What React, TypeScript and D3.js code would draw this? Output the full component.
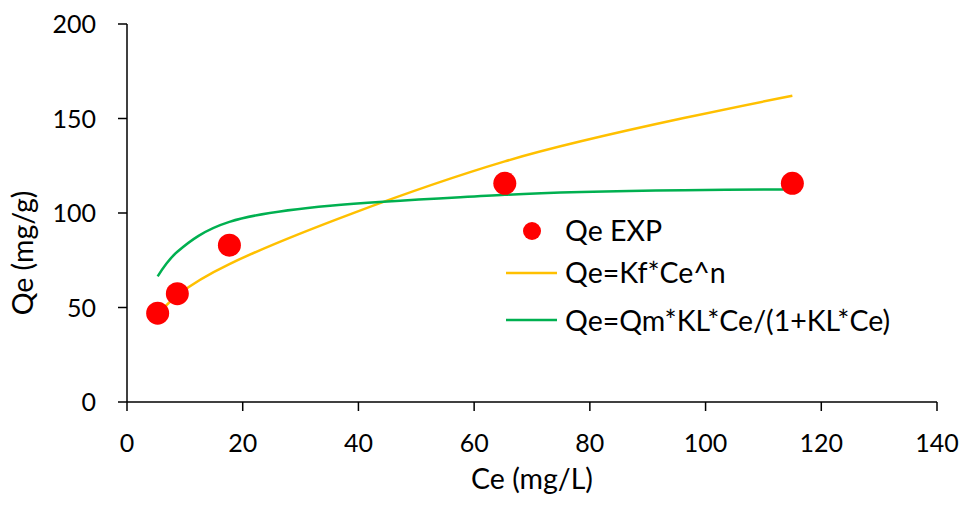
import React from 'react';
import * as d3 from 'd3';

const ceValues = [5.3, 8.7, 17.7, 65.3, 115];
const qeExp = [47, 57.3, 83, 115.7, 115.7];
const qeFreundlich = [46, 56.5, 73, 127.3, 162];
const qeLangmuir = [66.5, 79.5, 95.3, 109.6, 112.4];

const xTicks = [0, 20, 40, 60, 80, 100, 120, 140];
const yTicks = [0, 50, 100, 150, 200];

const legendLabels = ['Qe EXP', 'Qe=Kf*Ce^n', 'Qe=Qm*KL*Ce/(1+KL*Ce)'];

const W = 963;
const H = 507;
const font = 'Lato, "Open Sans", sans-serif';

const App = () => {
    const x = d3.scaleLinear().domain([0, 140]).range([127, 937]);
    const y = d3.scaleLinear().domain([0, 200]).range([402, 24]);

    // Excel style smoothed line
    const line = d3.line<number>()
        .x((d, i) => x(ceValues[i]))
        .y(d => y(d))
        .curve(d3.curveCatmullRom.alpha(0.5));

    return (
        <svg width={W} height={H} style={{ position: 'fixed', left: 0, top: 0, display: 'block', background: '#fff' }}>
            {/* y axis */}
            <line x1={x(0)} x2={x(0)} y1={y(0)} y2={y(200)} stroke="#000" strokeWidth={1.5} />
            {yTicks.map(t => (
                <g key={'y' + t}>
                    <line x1={x(0) - 9} x2={x(0)} y1={y(t)} y2={y(t)} stroke="#000" strokeWidth={1.5} />
                    <text x={96} y={y(t) + 9} textAnchor="end" fontFamily={font} fontSize={25}>{t}</text>
                </g>
            ))}
            {/* x axis */}
            <line x1={x(0)} x2={x(140)} y1={y(0)} y2={y(0)} stroke="#000" strokeWidth={1.5} />
            {xTicks.map(t => (
                <g key={'x' + t}>
                    <line x1={x(t)} x2={x(t)} y1={y(0)} y2={y(0) + 9} stroke="#000" strokeWidth={1.5} />
                    <text x={x(t)} y={452} textAnchor="middle" fontFamily={font} fontSize={25}>{t}</text>
                </g>
            ))}

            <text x={532} y={489} textAnchor="middle" fontFamily={font} fontSize={28.5}>Ce (mg/L)</text>
            <text transform="translate(33,253) rotate(-90)" textAnchor="middle" fontFamily={font} fontSize={28.5}>Qe (mg/g)</text>

            {/* fitted curves */}
            <path d={line(qeFreundlich) || ''} fill="none" stroke="#FFC000" strokeWidth={2.5} />
            <path d={line(qeLangmuir) || ''} fill="none" stroke="#00B050" strokeWidth={2.5} />

            {/* experimental points */}
            {qeExp.map((v, i) => (
                <circle key={'p' + i} cx={x(ceValues[i])} cy={y(v)} r={11.5} fill="#FF0000" />
            ))}

            {/* legend */}
            <circle cx={532} cy={231} r={9} fill="#FF0000" />
            <text x={565} y={241} fontFamily={font} fontSize={28.5}>{legendLabels[0]}</text>
            <line x1={506} x2={557} y1={273} y2={273} stroke="#FFC000" strokeWidth={2.5} />
            <text x={565} y={283} fontFamily={font} fontSize={28.5}>{legendLabels[1]}</text>
            <line x1={506} x2={557} y1={320} y2={320} stroke="#00B050" strokeWidth={2.5} />
            <text x={565} y={331} fontFamily={font} fontSize={28.5}>{legendLabels[2]}</text>
        </svg>
    );
};

export default App;
